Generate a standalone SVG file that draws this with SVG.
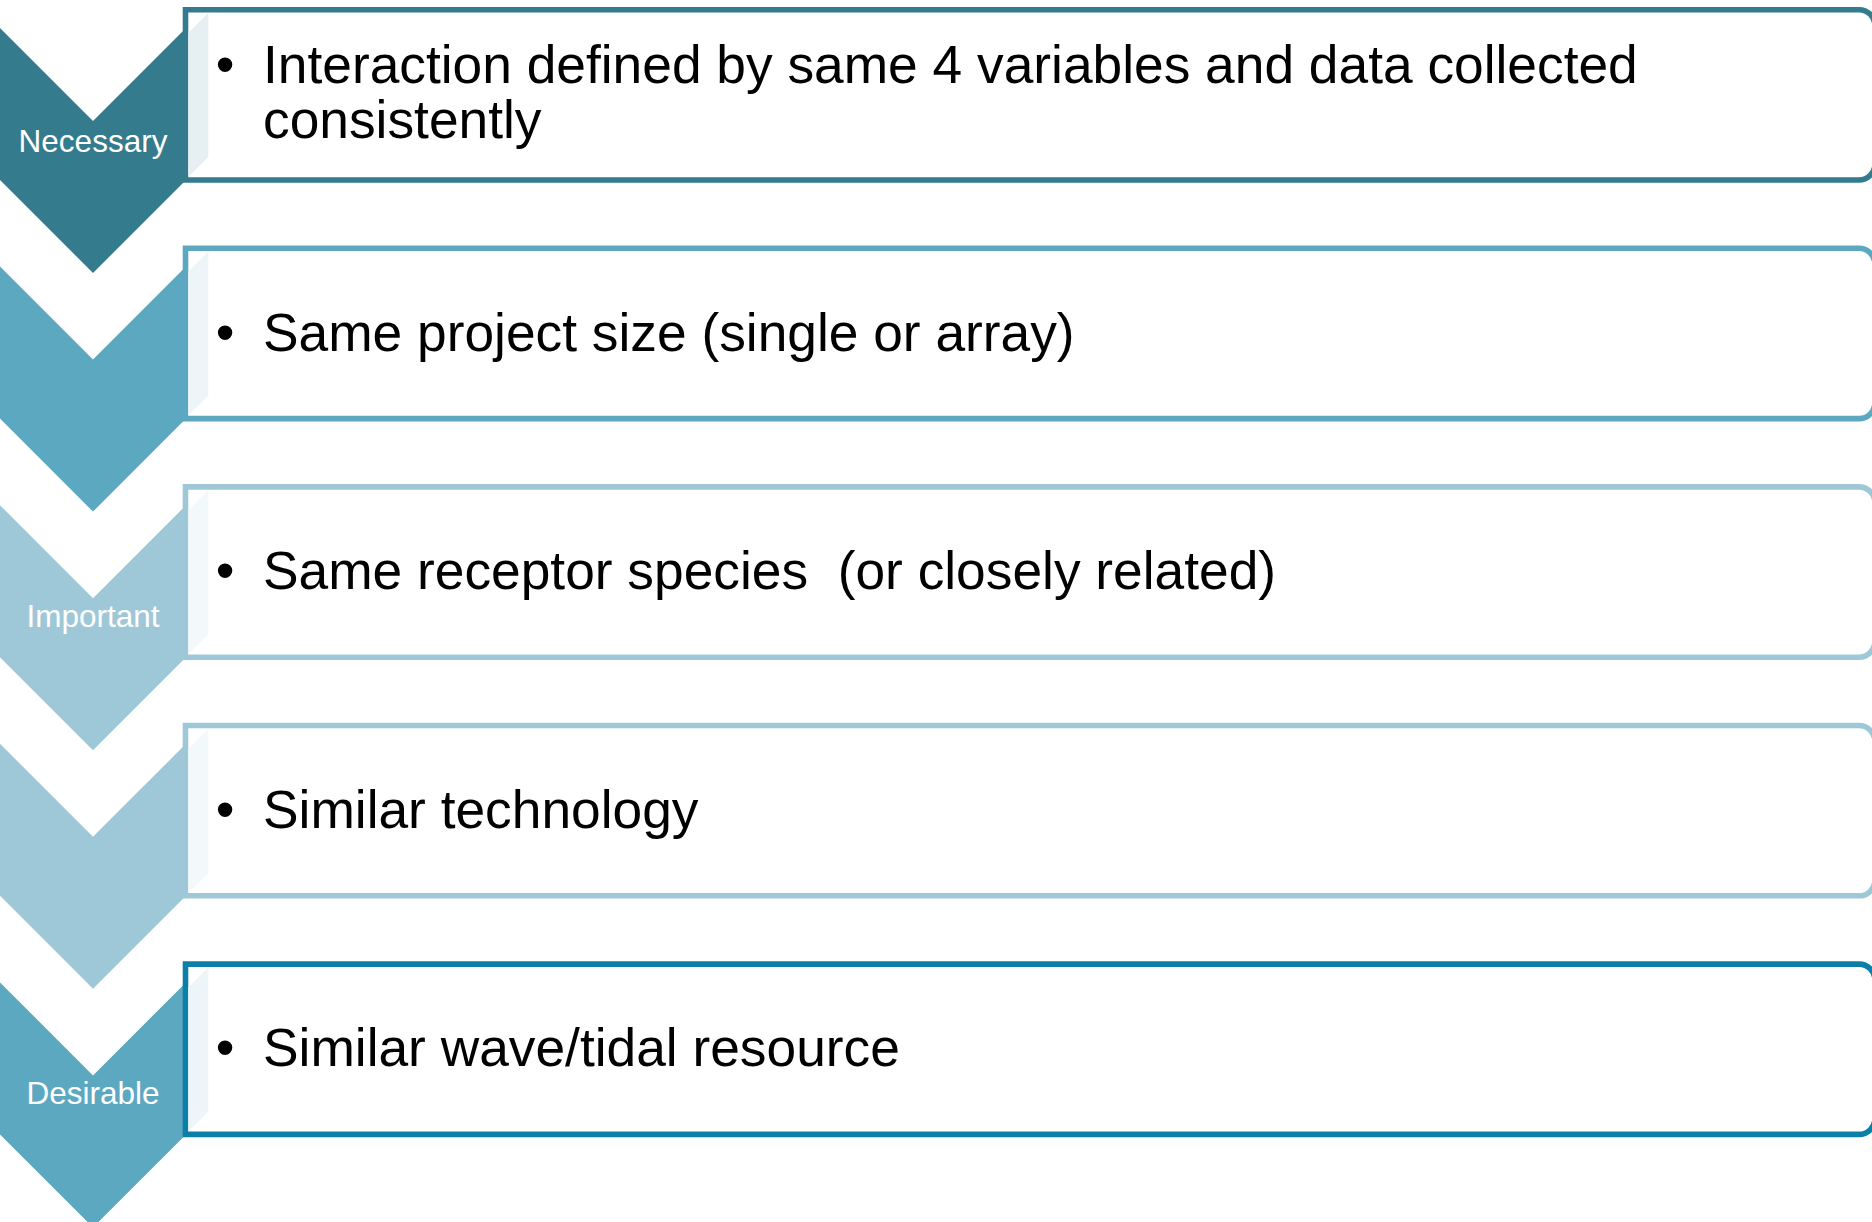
<svg xmlns="http://www.w3.org/2000/svg" width="1872" height="1222" viewBox="0 0 1872 1222">
  <style>
    .lbl { font-family: "Liberation Sans", Arial, sans-serif; font-size: 31.5px; fill: #ffffff; text-anchor: middle; }
    .txt { font-family: "Liberation Sans", Arial, sans-serif; font-size: 53.3px; fill: #000000; }
    .bul { font-family: "Liberation Sans", Arial, sans-serif; font-size: 53.3px; fill: #000000; text-anchor: middle; }
    .box { fill: #ffffff; stroke-width: 5.6; }
    .c-dark { fill: #357B8E; }
    .c-mid { fill: #5DA8C1; }
    .c-light { fill: #9EC8D7; }
  </style>
  <defs>
    <!-- chevron pointing down, 186 wide, 245 tall -->
    <path id="chev" d="M0,0 L93,93 L186,0 V152 L93,245 L0,152 Z"/>
    <!-- text panel: square left side, rounded right corners -->
    <path id="panel" d="M185.5,0 H1859 A16,16 0 0 1 1875,16 V154.3 A16,16 0 0 1 1859,170.3 H185.5 Z"/>
    <!-- shaded inner side strip -->
    <polygon id="strip" points="188.3,23.3 208.3,3.3 208.3,147.3 188.3,167.3"/>
  </defs>

  <!-- level 1 -->
  <g id="level1">
    <use href="#chev" class="c-dark" transform="translate(0,28)"/>
    <text class="lbl" x="93" y="151.5">Necessary</text>
    <g transform="translate(0,9.7)">
      <use href="#panel" class="box" stroke="#357B8E"/>
      <use href="#strip" fill="#E6EFF2"/>
    </g>
    <text class="bul" x="225" y="83.3">•</text>
    <text class="txt" x="263" y="83.3">Interaction defined by same 4 variables and data collected</text>
    <text class="txt" x="263" y="137.5">consistently</text>
  </g>

  <!-- level 2 -->
  <g id="level2">
    <use href="#chev" class="c-mid" transform="translate(0,266.6)"/>
    <g transform="translate(0,248.3)">
      <use href="#panel" class="box" stroke="#5DA8C1"/>
      <use href="#strip" fill="#EDF5F8"/>
    </g>
    <text class="bul" x="225" y="350.5">•</text>
    <text class="txt" x="263" y="350.5">Same project size (single or array)</text>
  </g>

  <!-- level 3 -->
  <g id="level3">
    <use href="#chev" class="c-light" transform="translate(0,505.2)"/>
    <text class="lbl" x="93" y="626.5">Important</text>
    <g transform="translate(0,486.9)">
      <use href="#panel" class="box" stroke="#9EC8D7"/>
      <use href="#strip" fill="#F3F8FA"/>
    </g>
    <text class="bul" x="225" y="589">•</text>
    <text class="txt" x="263" y="589" xml:space="preserve">Same receptor species  (or closely related)</text>
  </g>

  <!-- level 4 -->
  <g id="level4">
    <use href="#chev" class="c-light" transform="translate(0,743.8)"/>
    <g transform="translate(0,725.5)">
      <use href="#panel" class="box" stroke="#9EC8D7"/>
      <use href="#strip" fill="#F3F8FA"/>
    </g>
    <text class="bul" x="225" y="828">•</text>
    <text class="txt" x="263" y="828">Similar technology</text>
  </g>

  <!-- level 5 -->
  <g id="level5">
    <use href="#chev" class="c-mid" transform="translate(0,982.4)"/>
    <text class="lbl" x="93" y="1104">Desirable</text>
    <g transform="translate(0,964.1)">
      <use href="#panel" class="box" stroke="#0A80A8"/>
      <use href="#strip" fill="#EDF5F8"/>
    </g>
    <text class="bul" x="225" y="1066">•</text>
    <text class="txt" x="263" y="1066">Similar wave/tidal resource</text>
  </g>

  <g id="connectors"/>
</svg>
